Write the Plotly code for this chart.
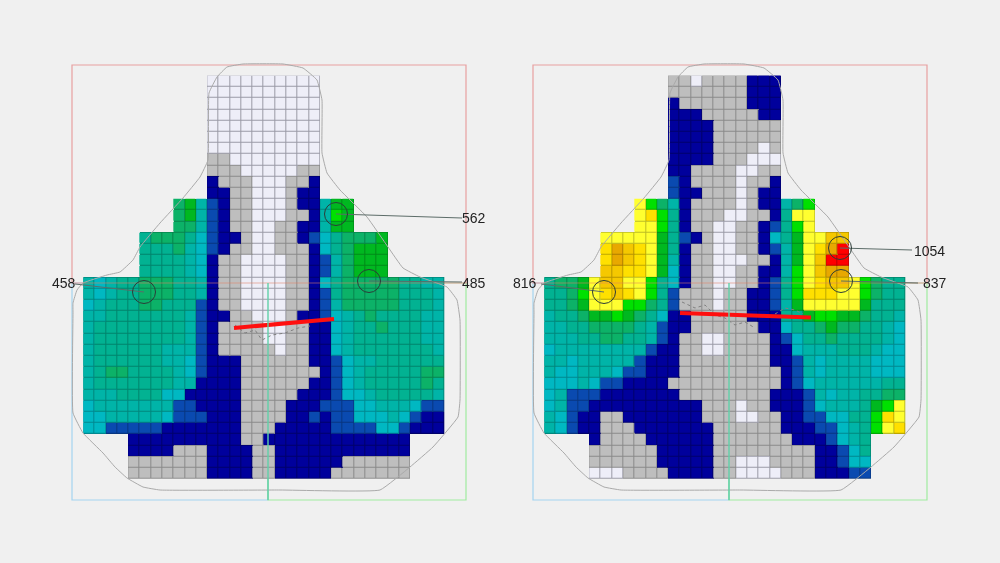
import plotly.graph_objects as go

LEVELS = ["W", "G", "N", "B", "c", "t", "e", "g", "h", "l", "y", "Y", "o", "O", "R"]
COLORS = ["#eeeef8", "#bebebe", "#00009c", "#0a4ab0", "#00b8c2", "#00b4a8", "#02b292", "#0cb268",
          "#00b820", "#00e000", "#ffff30", "#ffe000", "#f5c800", "#e8a800", "#ff0000"]
EDGE = ["#9a9aa6", "#8a8a8a", "#00006a", "#083680", "#008890", "#00867c", "#02846c", "#08844c",
        "#008a18", "#00a800", "#bdbd24", "#bda600", "#b69400", "#ac7c00", "#bd0000"]

LEFT_ROWS = [
    "...........WWWWWWWWWW...........",
    "...........WWWWWWWWWW...........",
    "...........WWWWWWWWWW...........",
    "...........WWWWWWWWWW...........",
    "...........WWWWWWWWWW...........",
    "...........WWWWWWWWWW...........",
    "...........WWWWWWWWWW...........",
    "...........GGWWWWWWWW...........",
    "...........GGGWWWWWGG...........",
    "...........NGGGWWWGGN...........",
    "...........NNGGWWWGNN...........",
    "........ghtBNGGWWWGNNthh........",
    "........ghtBNGGWWWGGNtlh........",
    "........ggtBNGGWWGGNNthh........",
    ".....egggecBNNGWWGGNBcegggh.....",
    ".....eeegtcBNGGWWGGGNceghhh.....",
    ".....eeeetcNGGWWWWGGNBtghhh.....",
    ".....eeeetcNGGWWWWGGNBtghhh.....",
    "tcteegggeetNGGWWWWGGNcegggggeett",
    "tcteegggeetNGGWWWWGGNBegggggeeet",
    "cteeeggeeeBNGGWWWWGGNBtgggggeeet",
    "tteeeeeeetBNNGGWWWGNNBctegeeeett",
    "teeeeeeeetBNGGGGWWGGNNcteegeeett",
    "teeeeeeeetBNGGGGWWGGNNcteeeeeett",
    "teeeeeetttBNGGGGGWGGNNcteeeeeeet",
    "teeeeeettcBNNNGGGGGGNNBctteeeeee",
    "teggeeeetcBNNNGGGGGGGNBcteeeeegg",
    "teeeeeeettNNNNGGGGGGNNBcteeeeege",
    "ttteeeeccNNNNNGGGGGNNNBcctEeeeet".replace("E", "e"),
    "ctttttttBBNNNNGGGGNNNBBBcctttcBB",
    "cctttttcBBBNNNGGGGNNBNBBccctcBNN",
    "ccBBBBBNNNNNNNGGGNNNNNBBBBccBNNN",
    "....NNNNNNNNNNGGNNNNNNNNNNNNN...",
    "....NNNNGGGNNNNGGNNNNNNNNNNNN...",
    "....GGGGGGGNNNNGGNNNNNNGGGGGG...",
    "....GGGGGGGNNNNGGNNNNNGGGGGGG...",
]

RIGHT_ROWS = [
    "...........GGWGGGGNNN...........",
    "...........GGGGGGGNNN...........",
    "...........NGGGGGGNNN...........",
    "...........NNNGGGGGNN...........",
    "...........NNNNGGGGGG...........",
    "...........NNNNGGGGGG...........",
    "...........NNNNGGGGWG...........",
    "...........NNNNGGGWWW...........",
    "...........NNGGGGWWGG...........",
    "...........BNGGGGWGGN...........",
    "...........BNNGGGWGNN...........",
    "........ylgtNGGGGWGNNtgl........",
    "........yYleNGGGWWGGNeyy........",
    "........yyleNGGWWGGNBely........",
    ".....yyyyyheBNGWWGGNcehyyoo.....",
    ".....YOoYyheNGGWWGGNBthyYOR.....",
    ".....YOoYyhtNGGWWWGGNthyoRR.....",
    ".....ooYYyhcNGGWWGGNNtlyoOO.....",
    "egghyooyylecNGGWWGGNBelyYooylgee",
    "eeglyYoYyleBGGGWGGNNBelYYYyylgee",
    "eeghyyyllgeBGGGWGGNNBthyyyyyheee",
    "teeghhlhgecNNGGGGGNNNeehllhhgeet",
    "tteeggggetBNNGGGGGGNNceeghggeetc",
    "ttteeggeetBNGGWWGGGGNBceegeeeetc",
    "cttttttttBNNGGWWGGGGNNcttteeetcc",
    "ttctttttBNNNGGGGGGGGNNBtcttttccc",
    "tcctttcBBNNNGGGGGGGGGNBtcttttccc",
    "ccctcBBNNNNGGGGGGGGGGNBcttttttee",
    "ctBBBNNNNNNNGGGGGGGGNNNBtctteegg",
    "ctBBNNNNNNNNNNGGGWGGNNNBctttehly",
    "tcBNNGGNNNNNNNGGGWWGGNNBBcceelYy",
    "tcBNNGGGNNNNNNNGGGGGGNNNBBctelyY",
    "....NGGGGNNNNNNGGGGGGGNNNBcte...",
    "....GGGGGGNNNNNGGGGGGGGGNNBce...",
    "....GGGGGGNNNNNGGWWWGGGGNNBcc...",
    "....WWWGGGGNNNNGGWWWWGGGNNNBB...",
]

LEFT_LABELS = ["458", "562", "485"]
RIGHT_LABELS = ["816", "1054", "837"]

OUTLINE_X = [171, 211, 231, 245, 250, 250, 255, 268, 295, 316, 331, 348, 375, 385, 388, 388, 386, 361, 338, 308,
             208, 88, 71, 55, 43, 31, 11, 1, 1, 1, 5, 11, 35, 48, 61, 68, 88, 111, 128, 136, 137, 145, 155, 171]
OUTLINE_Y = [-1, -1, 3, 15, 35, 88, 108, 125, 152, 182, 203, 212, 222, 235, 255, 335, 352, 382, 402, 425,
             425, 425, 422, 413, 402, 388, 368, 348, 248, 238, 225, 218, 210, 207, 195, 182, 158, 133, 112, 95, 28, 12, 2, -1]


def to_z(rows):
    return [[LEVELS.index(ch) if ch in LEVELS else None for ch in row] for row in rows]


def steps(cols):
    n = len(cols)
    scale = []
    for i, col in enumerate(cols):
        scale.append([i / n, col])
        scale.append([(i + 1) / n, col])
    return scale


CELL_X, CELL_Y = 11.28, 11.2
GRID_X0, GRID_Y0 = 11.3, 10.7
xs = [GRID_X0 + CELL_X * (i + 0.5) for i in range(32)]
ys = [GRID_Y0 + CELL_Y * (i + 0.5) for i in range(36)]

fig = go.Figure()
PANELS = [
    ("x", "y", LEFT_ROWS, [
        (LEFT_LABELS[0], -8, 218, 3, 219, 72, 227),
        (LEFT_LABELS[1], 402, 153, 390, 153, 264, 149),
        (LEFT_LABELS[2], 402, 218, 390, 217, 297, 216)],
     [162, 262], [263, 254]),
    ("x2", "y2", RIGHT_ROWS, [
        (RIGHT_LABELS[0], -8, 218, 8, 219, 71, 227),
        (RIGHT_LABELS[1], 396, 186, 379, 185, 307, 183),
        (RIGHT_LABELS[2], 402, 218, 385, 218, 308, 216)],
     [147, 278], [248, 252.5]),
]
SCRIBBLES = {
    "x": [([163, 173, 183, 190, 200, 213, 226, 238], [260, 268, 265, 275, 270, 268, 263, 261])],
    "x2": [([149, 162, 172, 182, 192, 202, 212, 222], [237, 243, 240, 250, 253, 260, 257, 263]),
           ([242, 252, 262, 270], [249, 243, 245, 249])],
}

annotations, shapes = [], []
for xa, ya, rows, calls, red_x, red_y in PANELS:
    # quadrant frames, beneath the cells
    for x0, y0, x1, y1, col in [(0, 218, 196, 435, "#a4d4f0"), (196, 218, 394, 435, "#a0eca0"),
                                (0, 0, 394, 218, "#e8a0a0")]:
        shapes.append(dict(type="rect", xref=xa, yref=ya, x0=x0, x1=x1, y0=y0, y1=y1, layer="below",
                           line=dict(color=col, width=1.2)))
    z = to_z(rows)
    fig.add_trace(go.Heatmap(x=xs, y=ys, z=z, xaxis=xa, yaxis=ya, colorscale=steps(EDGE), zmin=-0.5, zmax=14.5,
                             showscale=False, hoverinfo="skip"))
    fig.add_trace(go.Heatmap(x=xs, y=ys, z=z, xaxis=xa, yaxis=ya, colorscale=steps(COLORS), zmin=-0.5, zmax=14.5,
                             showscale=False, xgap=1, ygap=1, hoverinfo="skip"))
    fig.add_trace(go.Scatter(x=OUTLINE_X, y=OUTLINE_Y, xaxis=xa, yaxis=ya, mode="lines",
                             line=dict(color="#aaaaaa", width=1, shape="spline", smoothing=0.3), hoverinfo="skip"))
    for sx, sy in SCRIBBLES[xa]:
        fig.add_trace(go.Scatter(x=sx, y=sy, xaxis=xa, yaxis=ya, mode="lines",
                                 line=dict(color="#808080", width=1, dash="dot"), hoverinfo="skip"))
    fig.add_trace(go.Scatter(x=red_x, y=red_y, xaxis=xa, yaxis=ya, mode="lines",
                             line=dict(color="#ff0f0f", width=4), hoverinfo="skip"))
    # axis lines crossing the cells
    shapes.append(dict(type="line", xref=xa, yref=ya, x0=11, x1=373, y0=218, y1=218,
                       line=dict(color="rgba(225,130,100,0.55)", width=1)))
    shapes.append(dict(type="line", xref=xa, yref=ya, x0=196, x1=196, y0=218, y1=435,
                       line=dict(color="#60d0a8", width=1.4)))
    for label, tx, ty, lx0, ly0, cx, cy in calls:
        annotations.append(dict(x=tx, y=ty, xref=xa, yref=ya, text=label, showarrow=False,
                                font=dict(family="Liberation Sans", size=14, color="#222222")))
        shapes.append(dict(type="line", xref=xa, yref=ya, x0=lx0, y0=ly0, x1=cx, y1=cy,
                           line=dict(color="#5c6c68", width=1)))
        shapes.append(dict(type="circle", xref=xa, yref=ya, x0=cx - 11.5, x1=cx + 11.5, y0=cy - 11.5, y1=cy + 11.5,
                           line=dict(color="#2c3c38", width=1)))

ax_off = dict(visible=False, showgrid=False, zeroline=False)
y_domain = [1 - 510 / 563, 1 - 55 / 563]
fig.update_layout(
    width=1000, height=563, margin=dict(l=0, r=0, t=0, b=0), showlegend=False,
    paper_bgcolor="#f0f0f0", plot_bgcolor="rgba(0,0,0,0)",
    xaxis=dict(domain=[0.032, 0.506], range=[-40, 434], **ax_off),
    yaxis=dict(domain=y_domain, range=[445, -10], **ax_off),
    xaxis2=dict(domain=[0.493, 0.967], range=[-40, 434], **ax_off),
    yaxis2=dict(domain=y_domain, range=[445, -10], **ax_off),
    annotations=annotations, shapes=shapes,
)
fig.write_html("out.html", config={"displayModeBar": False},
               post_script="document.body.style.margin='0';document.body.style.background='#f0f0f0';"
                           "document.documentElement.style.overflow='hidden';"
                           "document.querySelector('.plotly-graph-div').style.filter='blur(0.55px)';")
